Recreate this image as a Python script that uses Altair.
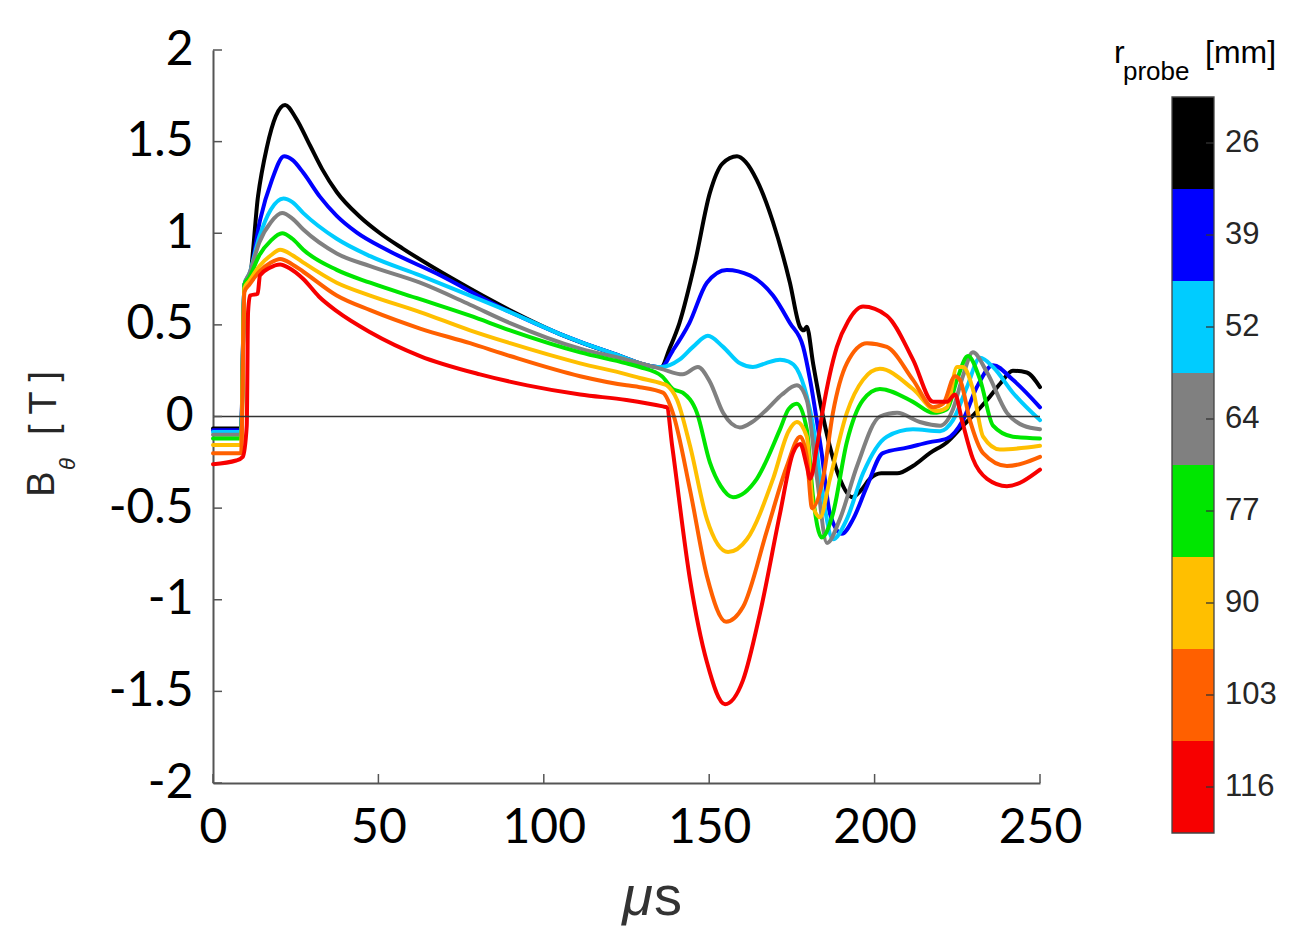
import altair as alt
import pandas as pd

# ---------------- data ----------------
labels = ["26", "39", "52", "64", "77", "90", "103", "116"]
palette = ["#000000", "#0000ff", "#00ccff", "#808080", "#00e600", "#ffbf00", "#ff6000", "#f70000"]

t_26 = [0, 8.5, 9.5, 11, 13.6, 16.3, 19, 21.8, 25, 29.3, 33, 37.4, 44.4, 50.5, 57.5, 72.6, 89.8, 104.9, 120,
        135.5, 138, 141, 145.7, 150.2, 154, 158.4, 161, 164.4, 169.3, 174.4, 177.4, 178.6, 179.5, 181.4, 184.4,
        187, 189.5, 193.2, 196, 198.6, 202, 206.8, 211.6, 216.7, 221.9, 226.7, 230, 234, 238, 241.8, 246, 250]
b_26 = [-0.065, -0.065, 0.72, 0.75, 1.20, 1.47, 1.64, 1.70, 1.63, 1.48, 1.35, 1.225, 1.09, 1.00, 0.915, 0.75, 0.58, 0.45, 0.35,
        0.27, 0.37, 0.51, 0.84, 1.22, 1.38, 1.42, 1.39, 1.29, 1.06, 0.73, 0.49, 0.47, 0.49, 0.29, 0.0,
        -0.20, -0.34, -0.44, -0.40, -0.34, -0.31, -0.31, -0.27, -0.20, -0.14, -0.05, 0.01, 0.09, 0.18, 0.25, 0.24, 0.16]

t_39 = [0, 8.5, 9.5, 11, 14.2, 17.8, 21.5, 24, 27.3, 32.3, 37.4, 43.4, 52.5, 67.6, 89.8, 104.9, 120, 135.5, 139, 144,
        149.3, 155.3, 162.3, 169.3, 174.4, 178.4, 180.5, 182.6, 184, 186.5, 190.1, 193.5, 197.7, 202.5, 209.8,
        216.7, 221.9, 226.7, 230.9, 235.8, 241.8, 250]
b_39 = [-0.075, -0.075, 0.72, 0.76, 1.07, 1.29, 1.42, 1.40, 1.33, 1.20, 1.095, 1.005, 0.91, 0.78, 0.57, 0.45, 0.35, 0.27, 0.36, 0.51,
        0.73, 0.80, 0.77, 0.66, 0.51, 0.38, 0.20, -0.03, -0.20, -0.53, -0.64, -0.56, -0.38, -0.20, -0.17,
        -0.14, -0.12, -0.02, 0.16, 0.28, 0.20, 0.05]

t_52 = [0, 8.5, 9.5, 11, 14, 17.5, 21.3, 24, 27.3, 37.4, 47.5, 62.6, 77.7, 89.8, 104.9, 120, 135.5, 141, 145.1,
        149.6, 154.2, 159.3, 163.2, 167, 171.4, 174, 176.5, 179.5, 181.4, 184.4, 187.4, 191.6, 196.5, 203.7,
        211.6, 219.8, 223.7, 227.9, 231.9, 235.8, 241.8, 250]
b_52 = [-0.085, -0.085, 0.72, 0.78, 0.98, 1.13, 1.19, 1.17, 1.11, 0.97, 0.875, 0.77, 0.66, 0.57, 0.45, 0.35, 0.27, 0.31, 0.38,
        0.44, 0.38, 0.29, 0.27, 0.29, 0.31, 0.30, 0.26, 0.11, -0.05, -0.44, -0.67, -0.56, -0.31, -0.11,
        -0.07, -0.08, -0.02, 0.16, 0.32, 0.27, 0.13, -0.02]

t_64 = [0, 8.5, 9.5, 11, 14, 17.5, 20.9, 24, 27.3, 37.4, 47.5, 62.6, 77.7, 89.8, 111, 125, 135.5, 142, 146.6,
        150.2, 154.2, 159.3, 163, 167.5, 172, 176.5, 179.5, 182.6, 185.6, 189.5, 194.7, 201.6, 206.8, 213.7,
        219.8, 223.7, 226.7, 229.7, 234, 240, 245, 250]
b_64 = [-0.10, -0.10, 0.72, 0.78, 0.95, 1.06, 1.11, 1.08, 1.02, 0.89, 0.82, 0.73, 0.61, 0.51, 0.37, 0.31, 0.26, 0.23, 0.27,
        0.19, 0.02, -0.06, -0.03, 0.04, 0.12, 0.17, 0.09, -0.34, -0.69, -0.56, -0.27, 0.0, 0.02, -0.03,
        -0.05, 0.04, 0.22, 0.35, 0.24, 0.02, -0.05, -0.07]

t_77 = [0, 8.5, 9.5, 11, 14, 17.5, 20.9, 24, 27.3, 37.4, 47.5, 62.6, 77.7, 89.8, 111, 125, 129, 135.7, 139,
        142, 146.3, 150.2, 153.5, 157.2, 164.4, 171.4, 174, 176.5, 179.5, 181.4, 184, 187.4, 191.6, 196.5,
        201.6, 211.6, 217.7, 221.9, 224.9, 228.2, 231.9, 235.8, 241.8, 250]
b_77 = [-0.12, -0.12, 0.72, 0.76, 0.88, 0.96, 1.00, 0.97, 0.91, 0.80, 0.73, 0.64, 0.55, 0.47, 0.35, 0.29, 0.27, 0.22, 0.15,
        0.13, 0.02, -0.25, -0.38, -0.44, -0.34, -0.07, 0.04, 0.07, -0.07, -0.44, -0.66, -0.53, -0.14, 0.09,
        0.15, 0.08, 0.02, 0.04, 0.20, 0.33, 0.20, -0.05, -0.11, -0.12]

t_90 = [0, 8.5, 9.5, 11, 14, 17.5, 20.3, 24, 27.3, 37.4, 47.5, 62.6, 77.7, 89.8, 111, 125, 129, 135.7, 137.2,
        140.3, 144.2, 149.3, 155.7, 161.4, 169.3, 174, 176.5, 179.5, 181.4, 183.5, 186.5, 191.6, 196.5,
        201.6, 211.6, 218.9, 221.9, 224.9, 226.7, 229.7, 232.8, 237.9, 250]
b_90 = [-0.155, -0.155, 0.70, 0.74, 0.82, 0.88, 0.91, 0.88, 0.84, 0.73, 0.66, 0.57, 0.47, 0.40, 0.29, 0.23, 0.21, 0.18, 0.17,
        0.09, -0.16, -0.56, -0.74, -0.67, -0.34, -0.08, -0.03, -0.11, -0.49, -0.55, -0.34, 0.02, 0.20,
        0.26, 0.15, 0.03, 0.05, 0.27, 0.27, 0.15, -0.11, -0.18, -0.16]

t_103 = [0, 8.5, 9.5, 11, 14, 17.5, 20.3, 24, 27.3, 37.4, 47.5, 62.6, 77.7, 89.8, 111, 125, 129, 136, 139,
         144.2, 149.3, 155.1, 160.2, 167.5, 173.5, 177.5, 179.5, 181.1, 184.4, 187.4, 191.6, 197.7, 203.7,
         211.6, 217.7, 220.7, 224.3, 225.8, 228.8, 232.8, 240, 250]
b_103 = [-0.20, -0.20, 0.68, 0.72, 0.79, 0.84, 0.86, 0.83, 0.79, 0.66, 0.58, 0.48, 0.40, 0.33, 0.22, 0.17, 0.16, 0.13, 0.02,
         -0.40, -0.87, -1.12, -1.04, -0.62, -0.27, -0.11, -0.22, -0.50, -0.34, 0.02, 0.29, 0.40, 0.38,
         0.20, 0.05, 0.07, 0.22, 0.20, -0.02, -0.20, -0.27, -0.22]

t_116 = [0, 7, 9, 10.2, 10.6, 11.2, 13.5, 14.2, 17, 20.3, 23, 27.3, 32, 37.4, 47.5, 62.6, 80.7, 95,
         111, 125, 136, 137.2, 138.8, 144.2, 149.3, 154.8, 160.2, 165.4, 171.4, 175.3, 177.5, 179.5, 180.5,
         182.6, 184.4, 188.6, 192, 196.5, 203.7, 211.6, 217.7, 221.9, 224.3, 226.4, 229.7, 234, 240, 250]
b_116 = [-0.26, -0.24, -0.22, -0.05, 0.57, 0.66, 0.67, 0.77, 0.81, 0.83, 0.81, 0.75, 0.655, 0.575, 0.46, 0.33, 0.23, 0.17,
         0.12, 0.09, 0.055, 0.05, -0.16, -0.89, -1.34, -1.57, -1.44, -1.07, -0.53, -0.20, -0.15, -0.27, -0.34,
         -0.16, 0.04, 0.38, 0.52, 0.60, 0.55, 0.31, 0.08, 0.08, 0.12, -0.02, -0.23, -0.34, -0.38, -0.29]

series_t = [t_26, t_39, t_52, t_64, t_77, t_90, t_103, t_116]
series_b = [b_26, b_39, b_52, b_64, b_77, b_90, b_103, b_116]

y_ticks = [-2, -1.5, -1, -0.5, 0, 0.5, 1, 1.5, 2]
x_ticks = [0, 50, 100, 150, 200, 250]

for lab, tt, bb in zip(labels, series_t, series_b):
    assert len(tt) == len(bb), (lab, len(tt), len(bb))

# ---------------- layout constants ----------------
W, H = 827, 733
AX = "#555555"
TXT = "#262626"

color_scale = alt.Scale(domain=labels, range=palette)

X = alt.X("t:Q", scale=alt.Scale(domain=[0, 250], nice=False, zero=False),
          axis=alt.Axis(values=x_ticks, title=None, grid=False, ticks=False, tickSize=0,
                        domainColor=AX, domainWidth=2, labelFont="Lato", labelFontSize=48,
                        labelColor="#000000", labelPadding=21, labelFlush=False))
Y = alt.Y("B:Q", scale=alt.Scale(domain=[-2, 2], nice=False, zero=False),
          axis=alt.Axis(values=y_ticks, title=None, grid=False, ticks=False, tickSize=0,
                        domainColor=AX, domainWidth=2, labelFont="Lato", labelFontSize=48,
                        labelColor="#000000", labelPadding=20, labelFlush=False,
                        labelExpr="'' + datum.value"))

one = alt.Data(values=[{"k": 1}])

line_layers = []
for lab, tt, bb in zip(labels, series_t, series_b):
    df = pd.DataFrame({"t": tt, "B": bb, "r": lab})
    line_layers.append(
        alt.Chart(df).mark_line(strokeWidth=4, interpolate="monotone", strokeJoin="round", strokeCap="round")
        .encode(x=X, y=Y, color=alt.Color("r:N", scale=color_scale, legend=None))
    )

zero_line = alt.Chart(pd.DataFrame({"B": [0]})).mark_rule(color="#333333", strokeWidth=1.4).encode(
    y=Y, x=alt.value(0), x2=alt.value(W))

ytick_rules = alt.Chart(pd.DataFrame({"B": y_ticks})).mark_rule(color=AX, strokeWidth=1.5).encode(
    y=Y, x=alt.value(0), x2=alt.value(9))
xtick_rules = alt.Chart(pd.DataFrame({"t": x_ticks})).mark_rule(color=AX, strokeWidth=1.5).encode(
    x=X, y=alt.value(H), y2=alt.value(H - 9))

# y title: B_theta [ T ]
yt_B = alt.Chart(one).mark_text(text="B", font="Liberation Sans", fontSize=38, angle=270,
                                align="center", baseline="middle", color=TXT).encode(
    x=alt.value(-170), y=alt.value(434))
yt_th = alt.Chart(one).mark_text(text="θ", font="Liberation Sans", fontSize=22, fontStyle="italic", angle=270,
                                 align="center", baseline="middle", color=TXT).encode(
    x=alt.value(-145), y=alt.value(414))
yt_T = alt.Chart(one).mark_text(text="[ T ]", font="Liberation Sans", fontSize=38, angle=270,
                                align="center", baseline="middle", color=TXT).encode(
    x=alt.value(-168), y=alt.value(353))

# x title: μs
xt_mu = alt.Chart(one).mark_text(text="μ", font="Liberation Sans", fontSize=56, fontStyle="italic",
                                 align="right", baseline="alphabetic", color="#333333").encode(
    x=alt.value(440), y=alt.value(865))
xt_s = alt.Chart(one).mark_text(text="s", font="Liberation Sans", fontSize=56,
                                align="left", baseline="alphabetic", color="#333333").encode(
    x=alt.value(441), y=alt.value(865))

plot = alt.layer(*line_layers, zero_line, ytick_rules, xtick_rules, yt_B, yt_th, yt_T, xt_mu, xt_s)

# ---------------- colour bar ----------------
cb_df = pd.DataFrame({"r": labels})
CBX0, CBX1 = 959, 1001
cb_scale = alt.Scale(type="band", domain=labels, range=[47, 783], paddingInner=0, paddingOuter=0)
cb_rect = alt.Chart(cb_df).mark_rect().encode(
    y=alt.Y("r:O", scale=cb_scale, axis=None),
    x=alt.value(CBX0), x2=alt.value(CBX1),
    color=alt.Color("r:N", scale=color_scale, legend=None))
cb_tick = alt.Chart(cb_df).mark_rule(color="#333333", strokeWidth=1.3).encode(
    y=alt.Y("r:O", scale=cb_scale, axis=None, bandPosition=0.5),
    x=alt.value(CBX1 - 8), x2=alt.value(CBX1))
cb_text = alt.Chart(cb_df).mark_text(font="Liberation Sans", fontSize=31, align="left",
                                     baseline="middle", color=TXT).encode(
    y=alt.Y("r:O", scale=cb_scale, axis=None, bandPosition=0.5),
    x=alt.value(1012), text="r:N")
cb_border = alt.Chart(one).mark_rect(filled=False, stroke="#444444", strokeWidth=1.3).encode(
    x=alt.value(CBX0), x2=alt.value(CBX1), y=alt.value(47), y2=alt.value(783))
cb_t_r = alt.Chart(one).mark_text(text="r", font="Liberation Sans", fontSize=32, align="left",
                                  baseline="alphabetic", color="#000000").encode(
    x=alt.value(901), y=alt.value(13))
cb_t_p = alt.Chart(one).mark_text(text="probe", font="Liberation Sans", fontSize=26, align="left",
                                  baseline="alphabetic", color="#000000").encode(
    x=alt.value(910), y=alt.value(30))
cb_t_mm = alt.Chart(one).mark_text(text="[mm]", font="Liberation Sans", fontSize=32, align="left",
                                   baseline="alphabetic", color="#000000").encode(
    x=alt.value(992), y=alt.value(13))

colorbar = alt.layer(cb_rect, cb_tick, cb_border, cb_text, cb_t_r, cb_t_p, cb_t_mm)

chart = (
    alt.layer(plot, colorbar)
    .resolve_scale(y="independent")
    .properties(width=W, height=H,
                autosize=alt.AutoSizeParams(type="none"),
                padding={"left": 213, "top": 50, "right": 266, "bottom": 169},
                background="#ffffff")
    .configure_view(stroke=None)
)

chart.save("out.html", embed_options={"renderer": "svg", "actions": False})
